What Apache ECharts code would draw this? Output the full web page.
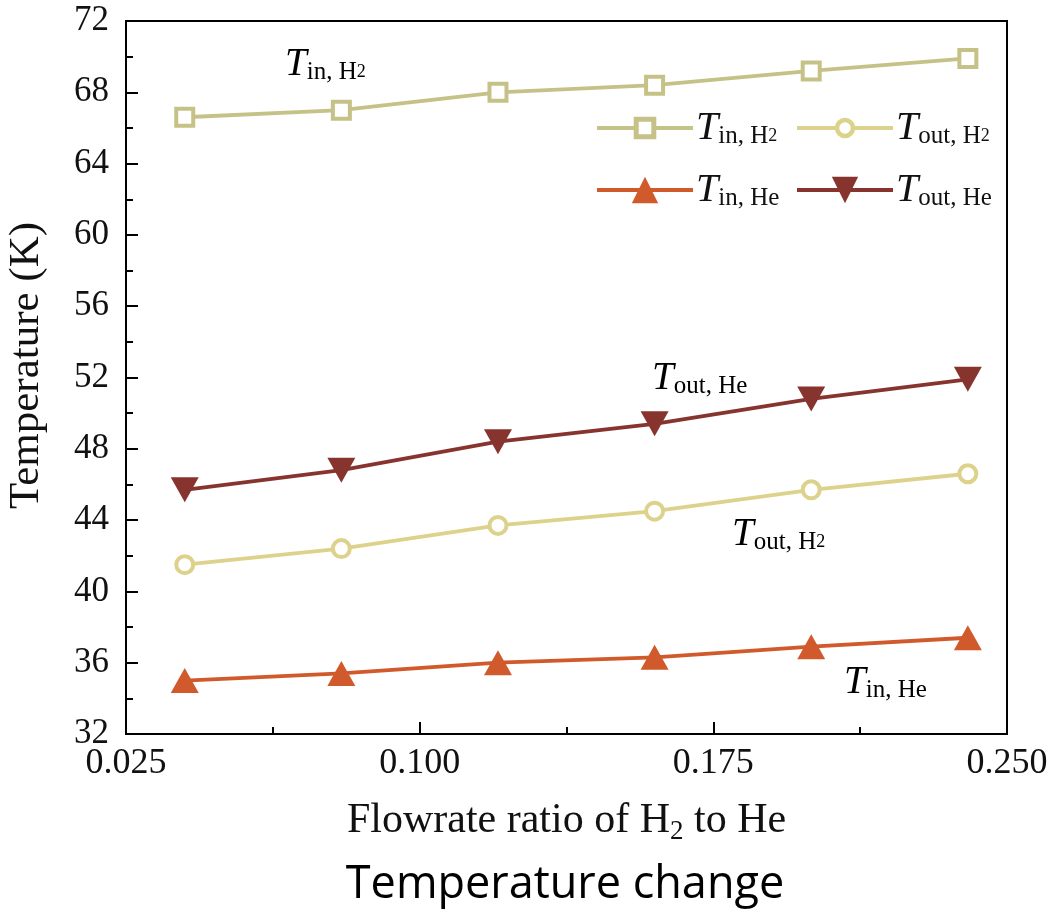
<!DOCTYPE html>
<html><head><meta charset="utf-8">
<script src="https://cdn.jsdelivr.net/npm/echarts@6/dist/echarts.min.js"></script>
<style>html,body{margin:0;padding:0;background:#fff}#c{width:1054px;height:911px}</style>
</head><body><div id="c"></div>
<script>
const xRatio = [0.04, 0.08, 0.12, 0.16, 0.20, 0.24];
const tInH2  = [66.6, 67.0, 68.0, 68.4, 69.2, 69.9];
const tOutH2 = [41.5, 42.4, 43.7, 44.5, 45.7, 46.6];
const tInHe  = [35.0, 35.4, 36.0, 36.3, 36.9, 37.4];
const tOutHe = [45.7, 46.8, 48.4, 49.4, 50.8, 51.9];
const seriesNames = ['Tin,H2', 'Tout,H2', 'Tin,He', 'Tout,He'];
const xTicks = [0.025, 0.100, 0.175, 0.250];

const serif = '"Liberation Serif", "DejaVu Serif", serif';
const colors = {'Tin,H2':'#c6c287','Tout,H2':'#ddd28c','Tin,He':'#d05a2b','Tout,He':'#87342f'};
function mkRich(tSize, sSize, nSize, off){
  return {
    t:{fontFamily:serif,fontStyle:'italic',fontSize:tSize,color:'#111'},
    s:{fontFamily:serif,fontSize:sSize,color:'#111',padding:[off,0,0,0]},
    n:{fontFamily:serif,fontSize:nSize,color:'#111',padding:[off,0,0,0]}
  };
}
const richLegend = mkRich(40, 25, 18, 17);
const richAnnot = mkRich(39, 25, 18, 16);
function lbl(name){
  const io = name.indexOf('in')===1 ? 'in' : 'out';
  if (name.endsWith('H2')) return '{t|T}{s|'+io+', H}{n|2}';
  return '{t|T}{s|'+io+', He}';
}
function pairs(ys){ return xRatio.map((x,i)=>[x, ys[i]]); }

const chart = echarts.init(document.getElementById('c'));
const legendPos = {'Tin,H2':[590,103],'Tout,H2':[790,103],'Tin,He':[590,165],'Tout,He':[790,165]};
const legendH = {'Tin,H2':22,'Tout,H2':20,'Tin,He':33,'Tout,He':33};
const legendStyle = {
  'Tin,H2':{color:'#fff',borderColor:colors['Tin,H2'],borderWidth:5},
  'Tout,H2':{color:'#fff',borderColor:colors['Tout,H2'],borderWidth:4.5},
  'Tin,He':{},'Tout,He':{}
};
const legends = seriesNames.map(n=>({
  data:[n], left:legendPos[n][0], top:legendPos[n][1], itemWidth:96, itemHeight:legendH[n],
  itemGap:0, formatter:lbl, textStyle:{rich:richLegend, padding:[0,0,0,-2]}, selectedMode:false,
  itemStyle:legendStyle[n], lineStyle:{width:4}
}));
const symbolCfg = {
  'Tin,H2':{symbol:'rect',symbolSize:17,itemStyle:{color:'#fff',borderColor:colors['Tin,H2'],borderWidth:4}},
  'Tout,H2':{symbol:'circle',symbolSize:17,itemStyle:{color:'#fff',borderColor:colors['Tout,H2'],borderWidth:4}},
  'Tin,He':{symbol:'triangle',symbolSize:[28,25],itemStyle:{color:colors['Tin,He']}},
  'Tout,He':{symbol:'triangle',symbolRotate:180,symbolSize:[28,25],itemStyle:{color:colors['Tout,He']}}
};
const dataMap = {'Tin,H2':tInH2,'Tout,H2':tOutH2,'Tin,He':tInHe,'Tout,He':tOutHe};
const series = seriesNames.map(n=>Object.assign({
  name:n, type:'line', data:pairs(dataMap[n]), showSymbol:true,
  lineStyle:{color:colors[n],width:3.8}, color:colors[n], animation:false, z:3
}, symbolCfg[n]));

function annot(name, x, y){
  return {type:'text', left:x, top:y, style:{text:lbl(name), rich:richAnnot}};
}

chart.setOption({
  animation:false,
  grid:{left:126, right:47, top:21, bottom:177, show:true, borderColor:'#000', borderWidth:2,
    containLabel:false, outerBoundsMode:'none'},
  legend:legends,
  xAxis:{type:'value', min:0.025, max:0.250, interval:0.075,
    name:'{a|Flowrate ratio of H}{b|2}{a| to He}', nameLocation:'middle', nameGap:62,
    nameTextStyle:{rich:{a:{fontFamily:serif,fontSize:42,color:'#111'},b:{fontFamily:serif,fontSize:27,color:'#111',padding:[22,0,0,0]}}},
    axisLine:{lineStyle:{color:'#000',width:2}},
    axisTick:{inside:true,length:12,lineStyle:{color:'#000',width:2}},
    minorTick:{show:true,splitNumber:2,length:7,lineStyle:{color:'#000',width:2}},
    splitLine:{show:false},
    axisLabel:{margin:12,fontFamily:serif,fontSize:36,color:'#111',
      formatter:v=>{const t=xTicks.find(k=>Math.abs(k-v)<1e-9);return (t!==undefined?t:v).toFixed(3);}}
  },
  yAxis:{type:'value', min:32, max:72, interval:4,
    name:'Temperature (K)', nameLocation:'middle', nameGap:78,
    nameTextStyle:{fontFamily:serif,fontSize:43,color:'#111',padding:[0,0,0,24]},
    axisLine:{lineStyle:{color:'#000',width:2}},
    axisTick:{inside:true,length:12,lineStyle:{color:'#000',width:2}},
    minorTick:{show:true,splitNumber:2,length:7,lineStyle:{color:'#000',width:2}},
    splitLine:{show:false},
    axisLabel:{margin:17,fontFamily:serif,fontSize:35,color:'#111'}
  },
  graphic:[
    annot('Tin,H2', 285, 45),
    annot('Tout,He', 652, 359),
    annot('Tout,H2', 732, 515),
    annot('Tin,He', 844, 663),
    {type:'text', x:565, y:863, style:{text:'Temperature change', align:'center', verticalAlign:'top',
      fontFamily:'"Open Sans", "Noto Sans", sans-serif', fontSize:45, fill:'#000'}}
  ],
  series:series
});
</script></body></html>
